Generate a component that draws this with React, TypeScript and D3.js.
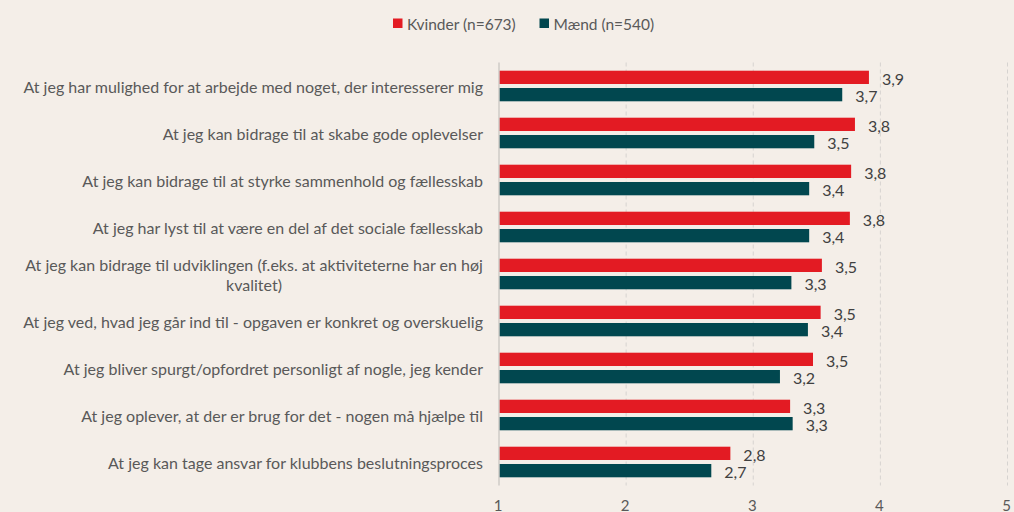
import React from "react";
import * as d3 from "d3";

const categories: string[][] = [
  ["At jeg har mulighed for at arbejde med noget, der interesserer mig"],
  ["At jeg kan bidrage til at skabe gode oplevelser"],
  ["At jeg kan bidrage til at styrke sammenhold og fællesskab"],
  ["At jeg har lyst til at være en del af det sociale fællesskab"],
  ["At jeg kan bidrage til udviklingen (f.eks. at aktiviteterne har en høj", "kvalitet)"],
  ["At jeg ved, hvad jeg går ind til - opgaven er konkret og overskuelig"],
  ["At jeg bliver spurgt/opfordret personligt af nogle, jeg kender"],
  ["At jeg oplever, at der er brug for det - nogen må hjælpe til"],
  ["At jeg kan tage ansvar for klubbens beslutningsproces"],
];
const kvinder: number[] = [3.91, 3.8, 3.77, 3.76, 3.54, 3.53, 3.47, 3.29, 2.82];
const maend: number[] = [3.7, 3.48, 3.44, 3.44, 3.3, 3.43, 3.21, 3.31, 2.67];
const seriesNames: string[] = ["Kvinder (n=673)", "Mænd (n=540)"];
const seriesColors: string[] = ["#e31b23", "#01474f"];
const ticks: number[] = [1, 2, 3, 4, 5];

const W = 1014;
const H = 512;
const FONT = "Lato, 'Open Sans', sans-serif";

export default function App() {
  const x = d3.scaleLinear().domain([1, 5]).range([499, 1007.5]);
  const y = d3
    .scaleBand<number>()
    .domain(d3.range(categories.length))
    .range([62.5, 485.5])
    .padding(0);
  const inner = d3
    .scaleBand<number>()
    .domain([0, 1])
    .range([0, y.bandwidth()])
    .paddingInner(0.231)
    .paddingOuter(0.474);
  const series = [kvinder, maend];
  const fmt = (v: number) => d3.format(".1f")(v).replace(".", ",");
  const top = y.range()[0];
  const bottom = y.range()[1];

  return (
    <svg
      width={W}
      height={H}
      style={{ position: "absolute", left: 0, top: 0, background: "#f4eee8" }}
      fontFamily={FONT}
    >
      <rect x={0} y={0} width={W} height={H} fill="#f4eee8" />
      {ticks.slice(1).map((t) => (
        <line
          key={t}
          x1={x(t)}
          x2={x(t)}
          y1={top}
          y2={bottom}
          stroke="#d6d3d0"
          strokeWidth={1}
          strokeDasharray="4,3"
        />
      ))}
      {series.map((vals, si) =>
        vals.map((v, i) => {
          const by = (y(i) as number) + (inner(si) as number);
          const bh = inner.bandwidth();
          return (
            <g key={`${si}-${i}`}>
              <rect
                x={x(1)}
                y={by}
                width={x(v) - x(1)}
                height={bh}
                fill={seriesColors[si]}
              />
              <text
                x={x(v) + 13}
                y={by + bh / 2 + 1}
                dominantBaseline="central"
                fontSize={16}
                fill="#404040"
              >
                {fmt(v)}
              </text>
            </g>
          );
        })
      )}
      <line x1={x(1)} x2={x(1)} y1={top} y2={bottom} stroke="#cfcbc7" strokeWidth={1.5} />
      {categories.map((lines, i) => {
        const cy = (y(i) as number) + y.bandwidth() / 2;
        const lh = 20;
        const multi = lines.length > 1;
        const cx = multi ? 254 : 483;
        return (
          <text
            key={i}
            textAnchor={multi ? "middle" : "end"}
            fontSize={16}
            fill="#595959"
          >
            {lines.map((l, li) => (
              <tspan
                key={li}
                x={cx}
                y={cy - ((lines.length - 1) * lh) / 2 + li * lh}
                dominantBaseline="central"
              >
                {l}
              </tspan>
            ))}
          </text>
        );
      })}
      {ticks.map((t) => (
        <text
          key={t}
          x={x(t) - 1}
          y={511}
          textAnchor="middle"
          fontSize={15}
          fill="#595959"
        >
          {t}
        </text>
      ))}
      {seriesNames.map((n, i) => {
        const lx = [393, 539.5][i];
        return (
          <g key={n}>
            <rect x={lx} y={18.5} width={9.5} height={9.5} fill={seriesColors[i]} />
            <text
              x={lx + 14}
              y={23.5}
              dominantBaseline="central"
              fontSize={15.5}
              fill="#595959"
            >
              {n}
            </text>
          </g>
        );
      })}
    </svg>
  );
}
